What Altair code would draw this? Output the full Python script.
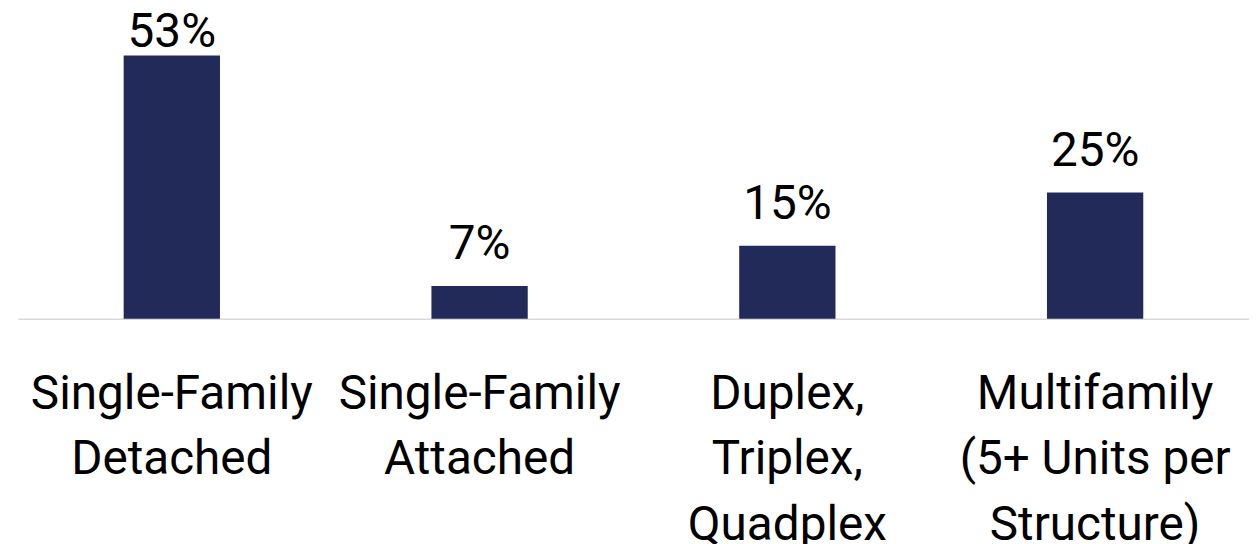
import altair as alt
import pandas as pd

categories = [
    "Single-Family|Detached",
    "Single-Family|Attached",
    "Duplex,|Triplex,|Quadplex",
    "Multifamily|(5+ Units per|Structure)",
]
values = [53.0, 6.6, 14.7, 25.4]
labels = ["53%", "7%", "15%", "25%"]

df = pd.DataFrame({"cat": categories, "value": values, "label": labels})

FONT = "Roboto"
FS = 48

x = alt.X(
    "cat:N",
    sort=categories,
    title=None,
    scale=alt.Scale(paddingInner=0, paddingOuter=0),
    axis=alt.Axis(
        labelExpr="split(datum.label, '|')",
        labelAngle=0,
        labelFont=FONT,
        labelFontSize=FS,
        labelColor="#000000",
        labelLineHeight=66,
        labelBaseline="top",
        labelPadding=52,
        labelLimit=0,
        ticks=False,
        tickSize=0,
        domainColor="#d9d9d9",
        domainWidth=1.5,
        grid=False,
    ),
)
y = alt.Y("value:Q", scale=alt.Scale(domain=[0, 53], nice=False, zero=True), axis=None)

bars = alt.Chart(df).mark_bar(size=97, color="#222A5A").encode(x=x, y=y)

text = (
    alt.Chart(df)
    .transform_calculate(lpos="min(datum.value, 49.3)")
    .mark_text(font=FONT, fontSize=FS, color="#000000", baseline="alphabetic", dy=-27)
    .encode(x=alt.X("cat:N", sort=categories), y=alt.Y("lpos:Q"), text="label:N")
)

chart = (
    alt.layer(bars, text)
    .properties(
        width=1240,
        height=265,
        autosize=alt.AutoSizeParams(type="none"),
        padding={"left": 10, "top": 46, "right": 0, "bottom": 225},
    )
    .configure_view(stroke=None)
)

chart.save("out.html", embed_options={"renderer": "svg", "actions": False})
